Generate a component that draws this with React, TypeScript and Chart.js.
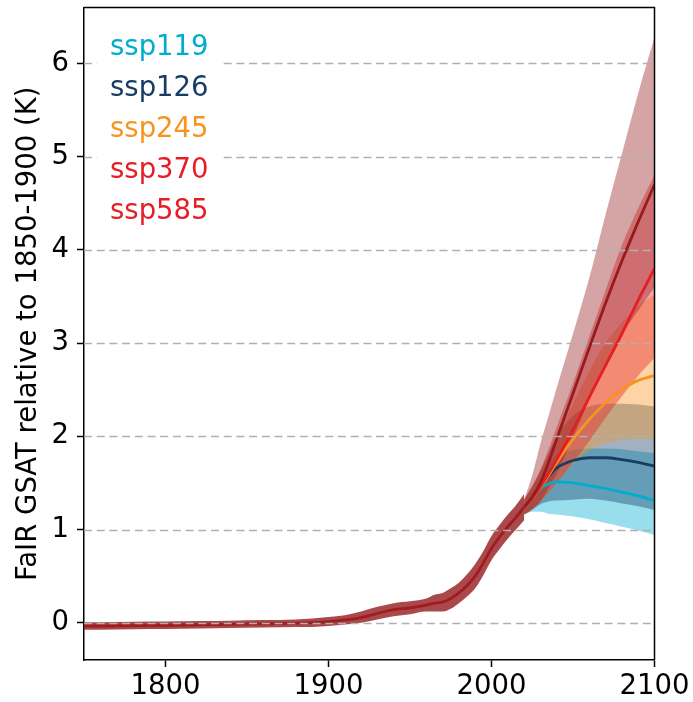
import React, { useEffect, useRef } from 'react';
import { Chart, registerables } from 'chart.js';

Chart.register(...registerables);

// ---------- data ----------
const histYears = [1750, 1760, 1780, 1800, 1820, 1840, 1860, 1880, 1890, 1900, 1910, 1920, 1930, 1940, 1950, 1960, 1965, 1970, 1975, 1980, 1985, 1990, 1995, 2000, 2005, 2010, 2015, 2020];
const histMean = [-0.035, -0.035, -0.03, -0.028, -0.022, -0.018, -0.012, -0.005, 0.0, 0.012, 0.03, 0.055, 0.1, 0.14, 0.16, 0.19, 0.21, 0.22, 0.26, 0.32, 0.4, 0.5, 0.64, 0.8, 0.92, 1.03, 1.13, 1.24];
const histLower = [-0.075, -0.075, -0.07, -0.068, -0.062, -0.058, -0.052, -0.045, -0.045, -0.035, -0.02, 0.0, 0.035, 0.07, 0.09, 0.12, 0.12, 0.12, 0.15, 0.21, 0.28, 0.37, 0.51, 0.67, 0.79, 0.9, 1.0, 1.1];
const histUpper = [0.005, 0.005, 0.01, 0.012, 0.018, 0.022, 0.028, 0.035, 0.045, 0.06, 0.08, 0.12, 0.17, 0.21, 0.23, 0.26, 0.3, 0.32, 0.37, 0.43, 0.52, 0.63, 0.77, 0.93, 1.05, 1.16, 1.26, 1.38];

const projYears = [2020, 2025, 2030, 2035, 2040, 2050, 2060, 2070, 2080, 2090, 2100];

const ssp585Mean = [1.24, 1.35, 1.5, 1.72, 1.97, 2.46, 2.95, 3.43, 3.88, 4.3, 4.7];
const ssp585Upper = [1.32, 1.58, 1.92, 2.22, 2.52, 3.1, 3.7, 4.38, 5.03, 5.68, 6.28];
const ssp585Lower = [1.16, 1.22, 1.3, 1.45, 1.6, 1.99, 2.39, 2.74, 3.09, 3.35, 3.6];

const ssp370Mean = [1.24, 1.34, 1.46, 1.6, 1.75, 2.07, 2.42, 2.76, 3.1, 3.46, 3.8];
const ssp370Upper = [1.32, 1.47, 1.64, 1.86, 2.1, 2.57, 3.07, 3.57, 4.05, 4.45, 4.8];
const ssp370Lower = [1.16, 1.22, 1.3, 1.4, 1.5, 1.72, 1.95, 2.2, 2.43, 2.65, 2.84];

const ssp245Mean = [1.24, 1.34, 1.45, 1.58, 1.72, 1.97, 2.18, 2.36, 2.5, 2.6, 2.65];
const ssp245Upper = [1.32, 1.46, 1.62, 1.8, 1.98, 2.35, 2.7, 3.0, 3.22, 3.4, 3.52];
const ssp245Lower = [1.16, 1.22, 1.3, 1.4, 1.5, 1.7, 1.85, 1.93, 1.96, 1.97, 1.96];

const ssp126Mean = [1.24, 1.34, 1.45, 1.57, 1.66, 1.74, 1.77, 1.77, 1.75, 1.72, 1.68];
const ssp126Upper = [1.32, 1.46, 1.63, 1.82, 2.0, 2.22, 2.32, 2.35, 2.35, 2.34, 2.32];
const ssp126Lower = [1.16, 1.21, 1.27, 1.3, 1.31, 1.32, 1.33, 1.31, 1.28, 1.25, 1.21];

const ssp119Mean = [1.24, 1.34, 1.44, 1.49, 1.51, 1.5, 1.47, 1.44, 1.4, 1.36, 1.31];
const ssp119Upper = [1.32, 1.45, 1.6, 1.72, 1.8, 1.85, 1.87, 1.87, 1.86, 1.84, 1.82];
const ssp119Lower = [1.16, 1.19, 1.19, 1.17, 1.16, 1.14, 1.11, 1.07, 1.03, 0.99, 0.94];

const scenarioNames = ['ssp119', 'ssp126', 'ssp245', 'ssp370', 'ssp585'];
const scenarioColors = ['rgb(0,173,207)', 'rgb(23,60,102)', 'rgb(247,148,32)', 'rgb(231,29,37)', 'rgb(149,27,30)'];
const scenarioFills = ['rgba(0,173,207,0.4)', 'rgba(23,60,102,0.4)', 'rgba(247,148,32,0.4)', 'rgba(231,29,37,0.4)', 'rgba(149,27,30,0.4)'];
const legendColors = ['rgb(0,173,207)', 'rgb(23,60,102)', 'rgb(247,148,32)', 'rgb(231,29,37)', 'rgb(231,29,37)'];

const xTicks = [1800, 1900, 2000, 2100];
const yTicks = [0, 1, 2, 3, 4, 5, 6];
const yTitle = 'FaIR GSAT relative to 1850-1900 (K)';

const FONT = "'DejaVu Sans'";
const FS = 27.5;

const pts = (xs: number[], ys: number[]) => xs.map((x, i) => ({ x, y: ys[i] }));

const overlay = {
  id: 'overlay',
  afterDatasetsDraw(chart: any) {
    const { ctx, chartArea, scales } = chart;
    ctx.save();
    ctx.strokeStyle = '#b0b0b0';
    ctx.lineWidth = 1.5;
    ctx.setLineDash([8, 4.7]);
    yTicks.forEach((v) => {
      const py = Math.round(scales.y.getPixelForValue(v)) + 0.5;
      ctx.beginPath();
      ctx.moveTo(chartArea.left, py);
      ctx.lineTo(chartArea.right, py);
      ctx.stroke();
    });
    ctx.restore();
  },
  afterDraw(chart: any) {
    const { ctx, chartArea } = chart;
    ctx.save();
    ctx.fillStyle = '#ffffff';
    ctx.fillRect(97, 20, 126, 215);
    ctx.font = `${FS}px ${FONT}`;
    ctx.textAlign = 'left';
    ctx.textBaseline = 'alphabetic';
    scenarioNames.forEach((n, i) => {
      ctx.fillStyle = legendColors[i];
      ctx.fillText(n, 110, 55 + i * 41.1);
    });
    ctx.strokeStyle = '#000';
    ctx.lineWidth = 1.5;
    ctx.beginPath();
    ctx.moveTo(chartArea.left, chartArea.top);
    ctx.lineTo(chartArea.right, chartArea.top);
    ctx.lineTo(chartArea.right, chartArea.bottom);
    ctx.stroke();
    ctx.translate(35.5, (chartArea.top + chartArea.bottom) / 2);
    ctx.rotate(-Math.PI / 2);
    ctx.fillStyle = '#000';
    ctx.textAlign = 'center';
    ctx.textBaseline = 'alphabetic';
    ctx.fillText(yTitle, 0, 0);
    ctx.restore();
  },
};

export default function App() {
  const ref = useRef<HTMLCanvasElement | null>(null);
  useEffect(() => {
    if (!ref.current) return;
    const means = [ssp119Mean, ssp126Mean, ssp245Mean, ssp370Mean, ssp585Mean];
    const uppers = [ssp119Upper, ssp126Upper, ssp245Upper, ssp370Upper, ssp585Upper];
    const lowers = [ssp119Lower, ssp126Lower, ssp245Lower, ssp370Lower, ssp585Lower];
    const datasets: any[] = [];
    const base = { pointRadius: 0, cubicInterpolationMode: 'monotone' as const };
    for (let k = 4; k >= 0; k--) {
      datasets.push({
        ...base,
        label: scenarioNames[k],
        data: pts(projYears, means[k]),
        borderColor: scenarioColors[k],
        borderWidth: 2.8,
        fill: false,
        order: 5 - k,
      });
    }
    datasets.push({
      ...base,
      label: 'historical',
      data: pts(histYears, histMean),
      borderColor: 'rgb(160,28,30)',
      borderWidth: 2.8,
      fill: false,
      order: 6,
    });
    const hIdx = datasets.length;
    datasets.push({
      ...base,
      label: 'hist upper',
      data: pts(histYears, histUpper),
      borderColor: 'rgba(0,0,0,0)',
      backgroundColor: 'rgba(149,27,30,0.8)',
      fill: hIdx + 1,
      order: 10,
    });
    datasets.push({
      ...base,
      label: 'hist lower',
      data: pts(histYears, histLower),
      borderColor: 'rgba(0,0,0,0)',
      fill: false,
      order: 10,
    });
    for (let k = 4; k >= 0; k--) {
      const idx = datasets.length;
      datasets.push({
        ...base,
        label: scenarioNames[k] + ' upper',
        data: pts(projYears, uppers[k]),
        borderColor: 'rgba(0,0,0,0)',
        backgroundColor: scenarioFills[k],
        fill: idx + 1,
        order: 15 - k,
      });
      datasets.push({
        ...base,
        label: scenarioNames[k] + ' lower',
        data: pts(projYears, lowers[k]),
        borderColor: 'rgba(0,0,0,0)',
        fill: false,
        order: 15 - k,
      });
    }

    const tickFont = { family: FONT, size: FS };
    const chart = new Chart(ref.current, {
      type: 'line',
      data: { datasets },
      options: {
        animation: false,
        responsive: false,
        devicePixelRatio: 1,
        layout: { padding: { top: 7.5, right: 38.5, left: 0, bottom: 0 } },
        plugins: {
          legend: { display: false },
          tooltip: { enabled: false },
          filler: { drawTime: 'beforeDatasetsDraw' },
        } as any,
        scales: {
          x: {
            type: 'linear',
            min: 1750,
            max: 2100,
            afterBuildTicks: (s: any) => { s.ticks = xTicks.map((v) => ({ value: v })); },
            afterFit: (s: any) => { s.height = 42; s.paddingLeft = 0; s.paddingRight = 0; },
            ticks: { color: '#000', font: tickFont, padding: 3, maxRotation: 0, autoSkip: false, callback: (v: any) => String(v) },
            grid: { display: true, drawOnChartArea: false, drawTicks: true, tickLength: 7, tickWidth: 1.5, tickColor: '#000' },
            border: { display: true, color: '#000', width: 1.5 },
          },
          y: {
            type: 'linear',
            min: -0.4,
            max: 6.6,
            afterBuildTicks: (s: any) => { s.ticks = yTicks.map((v) => ({ value: v })); },
            afterFit: (s: any) => { s.width = 84; s.paddingTop = 0; s.paddingBottom = 0; },
            ticks: { color: '#000', font: tickFont, padding: 8, autoSkip: false, callback: (v: any) => String(v) },
            grid: { display: true, drawOnChartArea: false, drawTicks: true, tickLength: 7, tickWidth: 1.5, tickColor: '#000' },
            border: { display: true, color: '#000', width: 1.5 },
          },
        },
      } as any,
      plugins: [overlay],
    });
    return () => chart.destroy();
  }, []);

  return (
    <div style={{ position: 'absolute', left: 0, top: 0, width: 693, height: 702, background: '#fff' }}>
      <canvas ref={ref} width={693} height={702} style={{ display: 'block', width: 693, height: 702 }} />
    </div>
  );
}
